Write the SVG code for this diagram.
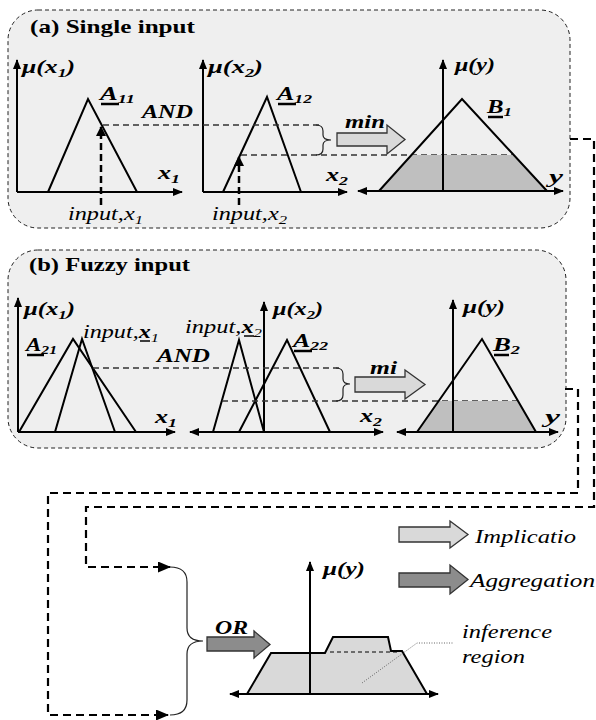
<svg xmlns="http://www.w3.org/2000/svg" width="596" height="720" viewBox="0 0 596 720" font-family="Liberation Serif">
<defs>
<marker id="ax" markerUnits="userSpaceOnUse" markerWidth="10" markerHeight="8" refX="9" refY="4" orient="auto-start-reverse"><path d="M0,0 L10,4 L0,8 z" fill="#000"/></marker>
<marker id="inp" markerUnits="userSpaceOnUse" markerWidth="10" markerHeight="10" refX="9" refY="5" orient="auto"><path d="M0,0 L10,5 L0,10 z" fill="#000"/></marker>
<marker id="con" markerUnits="userSpaceOnUse" markerWidth="13" markerHeight="11" refX="12" refY="5.5" orient="auto"><path d="M0,0 L13,5.5 L0,11 z" fill="#000"/></marker>
</defs>
<style>
.panel{fill:#efefef;stroke:#222;stroke-width:1;stroke-dasharray:4 3}
.axis{fill:none;stroke:#000;stroke-width:2}
.tri{fill:none;stroke:#000;stroke-width:2;stroke-linejoin:miter}
.shade{fill:#bfbfbf;stroke:none}
.dash{fill:none;stroke:#333;stroke-width:1.3;stroke-dasharray:6 4}
.brace{fill:none;stroke:#222;stroke-width:1.2}
.inp{fill:none;stroke:#000;stroke-width:2.5;stroke-dasharray:7 4}
.conn{fill:none;stroke:#000;stroke-width:2.2;stroke-dasharray:8 5}
.impl{fill:#d9d9d9;stroke:#333;stroke-width:1.3}
.aggr{fill:#8c8c8c;stroke:#333;stroke-width:1.3}
.ul{stroke:#000;stroke-width:2.5}
.lb{font-size:19px;font-weight:bold;font-style:italic}
.ti{font-size:19px;font-weight:bold}
.it{font-size:19px;font-style:italic}
.sub{font-size:13px}
</style>

<g id="panel-a">
<rect class="panel" x="8" y="10" width="562" height="218" rx="30"/>
<text class="ti" x="30" y="33" textLength="165" lengthAdjust="spacingAndGlyphs">(a)  Single input</text>
</g>

<g id="chart-a1">
<path class="axis" d="M17,192 V60" marker-end="url(#ax)"/>
<path class="axis" d="M17,192 H182" marker-end="url(#ax)"/>
<polyline class="tri" points="48,192 88,99 137,192"/>
<text class="lb" x="22" y="73" textLength="53" lengthAdjust="spacingAndGlyphs">μ(x<tspan class="sub" dy="4">1</tspan><tspan dy="-4">)</tspan></text>
<text class="lb" x="100" y="100" textLength="35" lengthAdjust="spacingAndGlyphs">A<tspan class="sub" dy="3">11</tspan></text>
<line class="ul" x1="101" y1="104" x2="119" y2="104"/>
<text class="lb" x="158" y="179" textLength="22" lengthAdjust="spacingAndGlyphs">x<tspan class="sub" dy="4">1</tspan></text>
<path class="inp" d="M101,205 V127" marker-end="url(#inp)"/>
<text class="it" x="68" y="220" textLength="75" lengthAdjust="spacingAndGlyphs">input,x<tspan class="sub" dy="4">1</tspan></text>
</g>

<g id="chart-a2">
<path class="axis" d="M203,192 V60" marker-end="url(#ax)"/>
<path class="axis" d="M203,192 H347" marker-end="url(#ax)"/>
<polyline class="tri" points="223,192 267,97 301,192"/>
<text class="lb" x="208" y="73" textLength="55" lengthAdjust="spacingAndGlyphs">μ(x<tspan class="sub" dy="4">2</tspan><tspan dy="-4">)</tspan></text>
<text class="lb" x="277" y="100" textLength="35" lengthAdjust="spacingAndGlyphs">A<tspan class="sub" dy="3">12</tspan></text>
<line class="ul" x1="278" y1="104" x2="296" y2="104"/>
<text class="lb" x="326" y="181" textLength="22" lengthAdjust="spacingAndGlyphs">x<tspan class="sub" dy="4">2</tspan></text>
<path class="inp" d="M239,205 V157" marker-end="url(#inp)"/>
<text class="it" x="212" y="220" textLength="75" lengthAdjust="spacingAndGlyphs">input,x<tspan class="sub" dy="4">2</tspan></text>
</g>

<g id="and-a">
<text class="lb" x="142" y="118" textLength="51" lengthAdjust="spacingAndGlyphs">AND</text>
<path class="dash" d="M103,125 H320"/>
<path class="dash" d="M241,155 H513"/>
<path class="brace" d="M316,125 Q323,125 323,131 V135 Q323,140 331,140 Q323,140 323,145 V149 Q323,155 316,155"/>
</g>

<g id="min-a">
<polygon class="impl" points="337,133 387,133 387,125 405,139.5 387,154 387,146 337,146"/>
<text class="lb" x="345" y="128" textLength="40" lengthAdjust="spacingAndGlyphs">min</text>
</g>

<g id="chart-a3">
<polygon class="shade" points="379,191 411.5,155 513.7,155 547,191"/>
<path class="axis" d="M358,191 H563" marker-start="url(#ax)" marker-end="url(#ax)"/>
<path class="axis" d="M443,191 V60" marker-end="url(#ax)"/>
<polyline class="tri" points="379,191 462,99 547,191"/>
<text class="lb" x="455" y="71" textLength="40" lengthAdjust="spacingAndGlyphs">μ(y)</text>
<text class="lb" x="487" y="113" textLength="25" lengthAdjust="spacingAndGlyphs">B<tspan class="sub" dy="3">1</tspan></text>
<line class="ul" x1="488" y1="117" x2="503" y2="117"/>
<text class="lb" x="549" y="183" textLength="14" lengthAdjust="spacingAndGlyphs">y</text>
</g>

<g id="panel-b">
<rect class="panel" x="8" y="250" width="558" height="198" rx="30"/>
<text class="ti" x="29" y="271" textLength="161" lengthAdjust="spacingAndGlyphs">(b) Fuzzy input</text>
</g>

<g id="chart-b1">
<path class="axis" d="M18,432 V298" marker-end="url(#ax)"/>
<path class="axis" d="M18,432 H175" marker-end="url(#ax)"/>
<polyline class="tri" points="19,432 73,339 136,432"/>
<polyline class="tri" points="55,432 82,339 115,432"/>
<text class="lb" x="24" y="315" textLength="51" lengthAdjust="spacingAndGlyphs">μ(x<tspan class="sub" dy="4">1</tspan><tspan dy="-4">)</tspan></text>
<text class="lb" x="26" y="351" textLength="31" lengthAdjust="spacingAndGlyphs">A<tspan class="sub" dy="3">21</tspan></text>
<line class="ul" x1="27" y1="355" x2="44" y2="355"/>
<text class="it" x="83" y="338" textLength="76" lengthAdjust="spacingAndGlyphs">input,<tspan font-weight="bold">x</tspan><tspan class="sub" dy="4">1</tspan></text>
<line x1="140" y1="341" x2="150" y2="341" stroke="#000" stroke-width="1.5"/>
<text class="lb" x="155" y="423" textLength="22" lengthAdjust="spacingAndGlyphs">x<tspan class="sub" dy="4">1</tspan></text>
</g>

<g id="chart-b2">
<path class="axis" d="M190,432 H383" marker-start="url(#ax)" marker-end="url(#ax)"/>
<path class="axis" d="M264,432 V302" marker-end="url(#ax)"/>
<polyline class="tri" points="213,432 239,340 264,432"/>
<polyline class="tri" points="239,432 287,340 330,432"/>
<text class="it" x="185" y="333" textLength="77" lengthAdjust="spacingAndGlyphs">input,<tspan font-weight="bold">x</tspan><tspan class="sub" dy="4">2</tspan></text>
<line x1="244" y1="336" x2="254" y2="336" stroke="#000" stroke-width="1.5"/>
<text class="lb" x="273" y="315" textLength="50" lengthAdjust="spacingAndGlyphs">μ(x<tspan class="sub" dy="4">2</tspan><tspan dy="-4">)</tspan></text>
<text class="lb" x="293" y="347" textLength="35" lengthAdjust="spacingAndGlyphs">A<tspan class="sub" dy="3">22</tspan></text>
<line class="ul" x1="294" y1="351" x2="312" y2="351"/>
<text class="lb" x="360" y="422" textLength="22" lengthAdjust="spacingAndGlyphs">x<tspan class="sub" dy="4">2</tspan></text>
</g>

<g id="and-b">
<text class="lb" x="157" y="362" textLength="53" lengthAdjust="spacingAndGlyphs">AND</text>
<path class="dash" d="M93,368 H340"/>
<path class="dash" d="M222,401 H518"/>
<path class="brace" d="M336,368 Q343,368 343,374 V379 Q343,384 350,384 Q343,384 343,389 V395 Q343,401 336,401"/>
</g>

<g id="min-b">
<polygon class="impl" points="355,377 405,377 405,370 425,384.5 405,399 405,392 355,392"/>
<text class="lb" x="370" y="374" textLength="27" lengthAdjust="spacingAndGlyphs">mi</text>
</g>

<g id="chart-b3">
<polygon class="shade" points="417,432 438.7,401 518,401 536,432"/>
<path class="axis" d="M397,432 H558" marker-start="url(#ax)" marker-end="url(#ax)"/>
<path class="axis" d="M453,432 V300" marker-end="url(#ax)"/>
<polyline class="tri" points="417,432 482,339 536,432"/>
<text class="lb" x="463" y="313" textLength="42" lengthAdjust="spacingAndGlyphs">μ(y)</text>
<text class="lb" x="493" y="351" textLength="27" lengthAdjust="spacingAndGlyphs">B<tspan class="sub" dy="3">2</tspan></text>
<line class="ul" x1="494" y1="355" x2="509" y2="355"/>
<text class="lb" x="545" y="423" textLength="15" lengthAdjust="spacingAndGlyphs">y</text>
</g>

<g id="connectors">
<path class="conn" d="M570,139 H594 V507 H86 V567 H170" marker-end="url(#con)"/>
<path class="conn" d="M565,389 H578 V493 H48 V715 H168" marker-end="url(#con)"/>
<path class="brace" stroke-width="1.5" d="M170,567 Q187,567 187,582 V628 Q187,641 203,641 Q187,641 187,654 V700 Q187,715 170,715"/>
</g>

<g id="or-arrow">
<polygon class="aggr" points="207,637 254,637 254,631 270,644.5 254,658 254,651 207,651"/>
<text class="lb" x="215" y="634" textLength="33" lengthAdjust="spacingAndGlyphs">OR</text>
</g>

<g id="chart-out">
<polygon points="247,694 271,653 325,653 333,637 388,637 391,651 402,651 427,694" fill="#d9d9d9"/>
<polyline class="tri" points="247,694 271,653 325,653 333,637 388,637 391,651 402,651 427,694"/>
<path d="M330,652 H400" fill="none" stroke="#000" stroke-width="1" stroke-dasharray="4 3"/>
<path class="axis" d="M230,694 H438" marker-start="url(#ax)" marker-end="url(#ax)"/>
<path class="axis" d="M310,694 V562" marker-end="url(#ax)"/>
<text class="lb" x="323" y="575" textLength="42" lengthAdjust="spacingAndGlyphs">μ(y)</text>
<path d="M362,683 L417,643 H453" fill="none" stroke="#666" stroke-width="1" stroke-dasharray="1 1.5"/>
<text class="it" x="462" y="638" textLength="90" lengthAdjust="spacingAndGlyphs">inference</text>
<text class="it" x="462" y="663" textLength="63" lengthAdjust="spacingAndGlyphs">region</text>
</g>

<g id="legend">
<polygon class="impl" points="399,527 450,527 450,521 468,534.5 450,548 450,542 399,542"/>
<text class="it" x="475" y="543" textLength="101" lengthAdjust="spacingAndGlyphs">Implicatio</text>
<polygon class="aggr" points="399,573 450,573 450,565 468,579.5 450,594 450,587 399,587"/>
<text class="it" x="470" y="587" textLength="125" lengthAdjust="spacingAndGlyphs">Aggregation</text>
</g>
</svg>
